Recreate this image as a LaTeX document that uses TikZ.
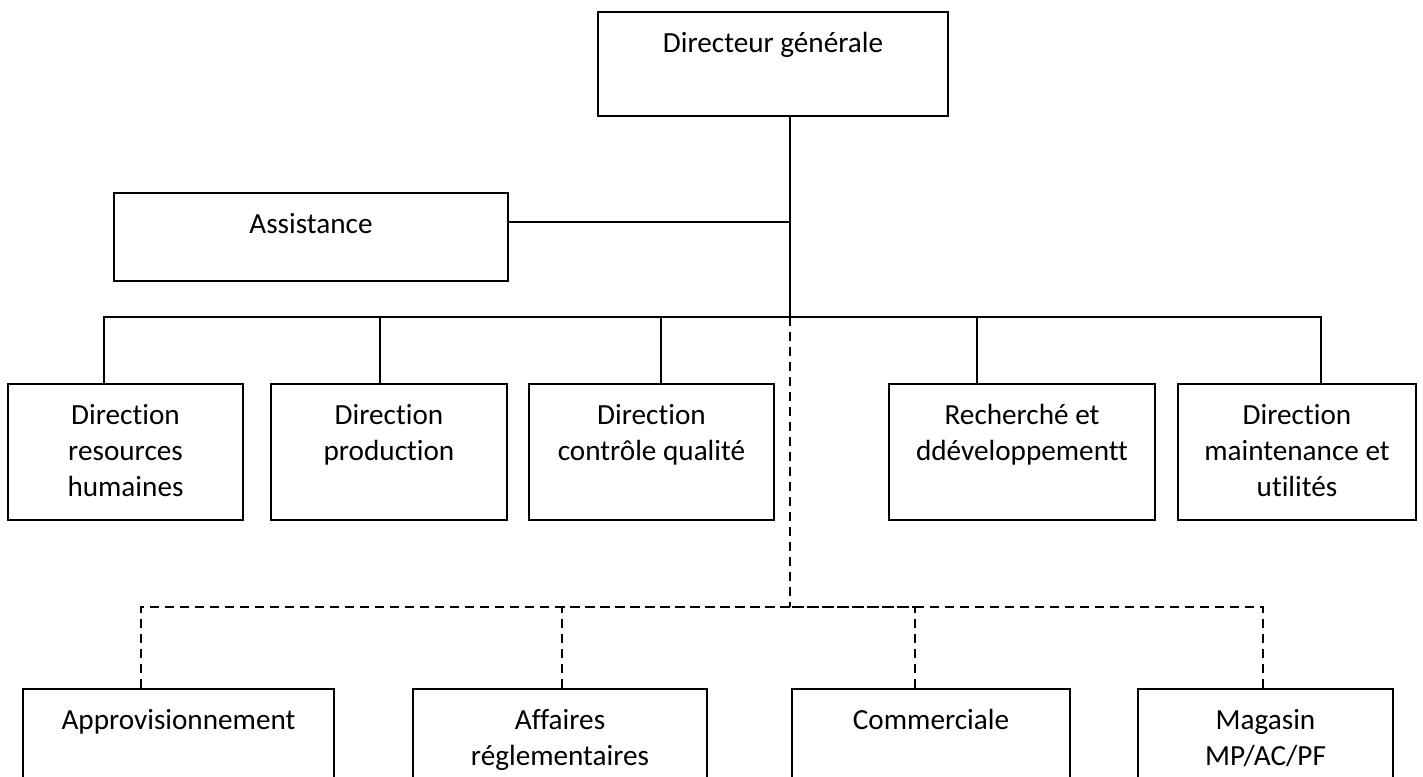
\documentclass[tikz,border=0pt]{standalone}
\usepackage{fontspec}
\setmainfont{Carlito}[Ligatures=NoCommon]
\usepackage{tikz}
\usetikzlibrary{positioning,arrows.meta}

\newcommand{\orgtext}[3]{\parbox[c][#2][t]{#1}{\centering\rule{0pt}{20pt}#3\par}}

\begin{document}
\begin{tikzpicture}[x=0.5pt,y=-0.5pt,
    orgbox/.style={draw,line width=1pt,inner sep=0pt,anchor=north west,
      font=\fontsize{14.6}{18}\selectfont},
    link/.style={line width=1pt},
    dashlink/.style={line width=1pt,dash pattern=on 4.5pt off 3pt}]
  \useasboundingbox (0,0) rectangle (1423,776);
  \clip (0,0) rectangle (1423,776);
  % top of the chart
  \node[orgbox] (dg) at (597,11) {\orgtext{175pt}{52pt}{Directeur générale}};
  \node[orgbox] (asst) at (113,192) {\orgtext{197pt}{44pt}{Assistance}};
  % directions
  \node[orgbox] (drh) at (7,383) {\orgtext{117.5pt}{68pt}{Direction\\resources\\humaines}};
  \node[orgbox] (dprod) at (270,383) {\orgtext{118pt}{68pt}{Direction\\production}};
  \node[orgbox] (dcq) at (528,383) {\orgtext{122.5pt}{68pt}{Direction\\contrôle qualité}};
  \node[orgbox] (rd) at (888,383) {\orgtext{133pt}{68pt}{Recherché et\\ddéveloppementt}};
  \node[orgbox] (dmu) at (1177,383) {\orgtext{119pt}{68pt}{Direction\\maintenance et\\utilités}};
  % services
  \node[orgbox] (appro) at (22,688) {\orgtext{155.5pt}{51pt}{Approvisionnement}};
  \node[orgbox] (affreg) at (412,688) {\orgtext{147pt}{51pt}{Affaires\\réglementaires}};
  \node[orgbox] (comm) at (791,688) {\orgtext{139pt}{51pt}{Commerciale}};
  \node[orgbox] (mag) at (1137,688) {\orgtext{127.5pt}{51pt}{Magasin\\MP/AC/PF}};

  \coordinate (hub) at (790,317);
  \coordinate (split) at (790,607);

  % solid links
  \draw[link] (dg.south -| hub) -- (hub);
  \draw[link] (asst.north east) ++(0,30) -| (hub);
  \draw[link] (drh.north west) ++(97,0) |- (hub);
  \draw[link] (dprod.north west) ++(110,0) |- (hub);
  \draw[link] (dcq.north west) ++(133,0) |- (hub);
  \draw[link] (rd.north west) ++(89,0) |- (hub);
  \draw[link] (dmu.north west) ++(144,0) |- (hub);

  % dashed links
  \draw[dashlink] (hub) -- (split);
  \draw[dashlink] (appro.north west) ++(119,0) |- (split);
  \draw[dashlink] (affreg.north west) ++(150,0) |- (split);
  \draw[dashlink] (comm.north west) ++(124,0) |- (split);
  \draw[dashlink] (mag.north west) ++(126,0) |- (split);
\end{tikzpicture}
\end{document}
